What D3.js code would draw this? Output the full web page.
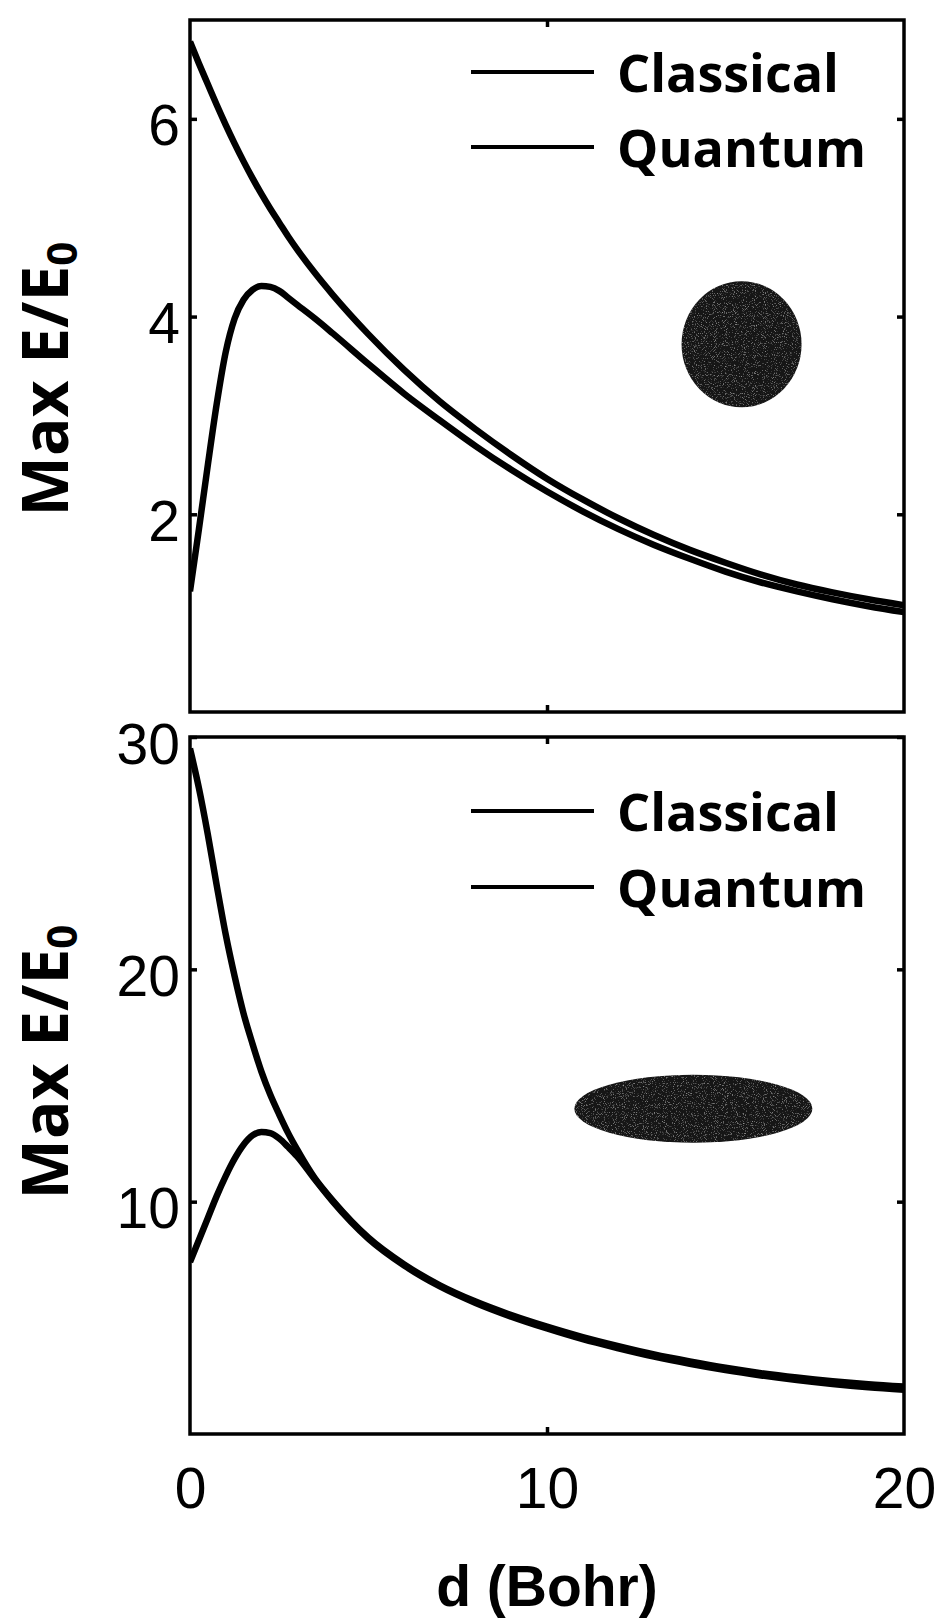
<!DOCTYPE html>
<html>
<head>
<meta charset="utf-8">
<script src="https://cdn.jsdelivr.net/npm/d3@7"></script>
<style>
  html, body { margin: 0; padding: 0; background: #fff; }
  svg { display: block; }
</style>
</head>
<body>
<svg id="chart" width="940" height="1620"></svg>
<script>
// Separation d (Bohr) at which the field enhancement was evaluated
const distance = [0, 0.25, 0.5, 0.75, 1, 1.25, 1.5, 1.75, 2, 2.25, 2.5, 2.75, 3, 3.5, 4,
                  5, 6, 7, 8, 9, 10, 11, 12, 13, 14, 15, 16, 17, 18, 19, 20];

// Sphere (top panel): max E/E0
const sphereClassical = [6.78, 6.56, 6.35, 6.14, 5.94, 5.75, 5.57, 5.40, 5.24, 5.09, 4.95, 4.81, 4.68, 4.44, 4.22,
                         3.82, 3.46, 3.14, 2.86, 2.60, 2.36, 2.15, 1.96, 1.79, 1.64, 1.51, 1.39, 1.29, 1.21, 1.14, 1.08];
const sphereQuantum   = [1.22, 1.85, 2.50, 3.12, 3.64, 3.98, 4.17, 4.27, 4.31, 4.30, 4.26, 4.19, 4.12, 3.98, 3.83,
                         3.52, 3.22, 2.95, 2.69, 2.45, 2.23, 2.03, 1.85, 1.69, 1.55, 1.42, 1.31, 1.22, 1.14, 1.07, 1.01];

// Prolate spheroid (bottom panel): max E/E0
const spheroidClassical = [29.5, 27.8, 25.8, 23.6, 21.5, 19.7, 18.1, 16.8, 15.6, 14.6, 13.75, 12.95, 12.25, 11.0, 10.05,
                           8.45, 7.3, 6.4, 5.7, 5.12, 4.62, 4.17, 3.78, 3.42, 3.12, 2.85, 2.62, 2.43, 2.27, 2.14, 2.04];
const spheroidQuantum   = [7.4, 8.35, 9.3, 10.25, 11.1, 11.85, 12.45, 12.85, 13.0, 12.95, 12.72, 12.35, 11.95, 10.95, 10.0,
                           8.4, 7.25, 6.35, 5.64, 5.05, 4.54, 4.08, 3.69, 3.33, 3.02, 2.75, 2.52, 2.32, 2.15, 2.01, 1.90];

const seriesNames = ["Classical", "Quantum"];
const xTicks = [0, 10, 20];
const topYTicks = [2, 4, 6];
const bottomYTicks = [10, 20, 30];

const svg = d3.select("#chart");

// Fine grain texture for the particle silhouettes
const defs = svg.append("defs");
const grain = defs.append("filter").attr("id", "grain").attr("x", "0").attr("y", "0").attr("width", "1").attr("height", "1");
grain.append("feTurbulence").attr("type", "fractalNoise").attr("baseFrequency", 0.9).attr("numOctaves", 2).attr("seed", 7).attr("result", "noise");
grain.append("feColorMatrix").attr("in", "noise").attr("type", "matrix")
  .attr("values", "0 0 0 0 0.35  0 0 0 0 0.35  0 0 0 0 0.35  2.6 0 0 0 -1.5").attr("result", "specks");
grain.append("feComposite").attr("in", "specks").attr("in2", "SourceGraphic").attr("operator", "in").attr("result", "clipped");
const merge = grain.append("feMerge");
merge.append("feMergeNode").attr("in", "SourceGraphic");
merge.append("feMergeNode").attr("in", "clipped");

const x = d3.scaleLinear().domain([0, 20]).range([190, 904]);

const panels = [
  {
    id: "top",
    y: d3.scaleLinear().domain([0, 7]).range([712, 20]),
    ticks: topYTicks,
    classical: sphereClassical,
    quantum: sphereQuantum,
    legendY: [72, 147],
    labelY: 379,
    showX: false,
    shape: { cx: 15.45, cy: 3.72, rx: 60, ry: 63 }
  },
  {
    id: "bottom",
    y: d3.scaleLinear().domain([0, 30]).range([1434, 737]),
    ticks: bottomYTicks,
    classical: spheroidClassical,
    quantum: spheroidQuantum,
    legendY: [811, 887],
    labelY: 1062,
    showX: true,
    shape: { cx: 14.1, cy: 14.0, rx: 119, ry: 34 }
  }
];

const tickFont = "'Liberation Sans', Arial, Helvetica, sans-serif";
const boldFont = "'Open Sans', 'Noto Sans', sans-serif";

panels.forEach(p => {
  const g = svg.append("g").attr("class", "panel-" + p.id);
  const [y0, y1] = p.y.range();
  const [x0, x1] = x.range();

  defs.append("clipPath").attr("id", "clip-" + p.id)
    .append("rect").attr("x", x0).attr("y", y1).attr("width", x1 - x0).attr("height", y0 - y1);

  // Particle silhouette
  g.append("ellipse")
    .attr("cx", x(p.shape.cx)).attr("cy", p.y(p.shape.cy))
    .attr("rx", p.shape.rx).attr("ry", p.shape.ry)
    .attr("fill", "#141414")
    .attr("filter", "url(#grain)");

  // Curves
  const line = d3.line()
    .x((d, i) => x(distance[i]))
    .y(d => p.y(d))
    .curve(d3.curveMonotoneX);

  const curves = g.append("g").attr("clip-path", "url(#clip-" + p.id + ")");
  [p.classical, p.quantum].forEach(vals => {
    curves.append("path")
      .datum(vals)
      .attr("d", line)
      .attr("fill", "none")
      .attr("stroke", "#000")
      .attr("stroke-width", 6.5)
      .attr("stroke-linejoin", "round");
  });

  // Frame
  g.append("rect")
    .attr("x", x0).attr("y", y1)
    .attr("width", x1 - x0).attr("height", y0 - y1)
    .attr("fill", "none").attr("stroke", "#000").attr("stroke-width", 3.5);

  // Inward ticks on all four sides
  const tickLen = 7;
  const styleAxis = sel => {
    sel.select(".domain").remove();
    sel.selectAll(".tick line").attr("stroke", "#000").attr("stroke-width", 3.5);
  };
  g.append("g").attr("transform", `translate(0,${y0})`)
    .call(d3.axisBottom(x).tickValues([10]).tickSize(-tickLen).tickFormat(""))
    .call(styleAxis);
  g.append("g").attr("transform", `translate(0,${y1})`)
    .call(d3.axisTop(x).tickValues([10]).tickSize(-tickLen).tickFormat(""))
    .call(styleAxis);
  g.append("g").attr("transform", `translate(${x1},0)`)
    .call(d3.axisRight(p.y).tickValues(p.ticks).tickSize(-tickLen).tickFormat(""))
    .call(styleAxis);

  const yAxis = g.append("g").attr("transform", `translate(${x0},0)`)
    .call(d3.axisLeft(p.y).tickValues(p.ticks).tickSize(-tickLen).tickPadding(10).tickFormat(d3.format("d")))
    .call(styleAxis);
  yAxis.selectAll(".tick text")
    .attr("x", -10)
    .attr("dy", 26)
    .attr("fill", "#000")
    .style("font-family", tickFont)
    .style("font-size", "57px");

  if (p.showX) {
    const xAxis = g.append("g").attr("transform", `translate(0,${y0})`)
      .call(d3.axisBottom(x).tickValues(xTicks).tickSize(0).tickPadding(0).tickFormat(d3.format("d")))
      .call(sel => sel.select(".domain").remove());
    xAxis.selectAll(".tick text")
      .attr("y", 74)
      .attr("dy", 0)
      .attr("fill", "#000")
      .style("font-family", tickFont)
      .style("font-size", "57px");
  }

  // Y axis title
  const yt = g.append("text")
    .attr("transform", `translate(68,${p.labelY}) rotate(-90)`)
    .attr("text-anchor", "middle")
    .attr("fill", "#000")
    .style("font-family", boldFont)
    .style("font-weight", "700")
    .style("font-size", "64px");
  yt.append("tspan").text("Max E/E");
  yt.append("tspan").text("0").attr("baseline-shift", "-22%").style("font-size", "42px");

  // Legend
  seriesNames.forEach((name, i) => {
    const ly = p.legendY[i];
    g.append("line")
      .attr("x1", 471).attr("x2", 594)
      .attr("y1", ly).attr("y2", ly)
      .attr("stroke", "#000").attr("stroke-width", 4);
    g.append("text")
      .attr("x", 617).attr("y", ly + 20)
      .attr("fill", "#000")
      .style("font-family", boldFont)
      .style("font-weight", "700")
      .style("font-size", "52px")
      .text(name);
  });
});

// X axis title
svg.append("text")
  .attr("x", 547).attr("y", 1606)
  .attr("text-anchor", "middle")
  .attr("fill", "#000")
  .style("font-family", tickFont)
  .style("font-weight", "700")
  .style("font-size", "57px")
  .text("d (Bohr)");
</script>
</body>
</html>
